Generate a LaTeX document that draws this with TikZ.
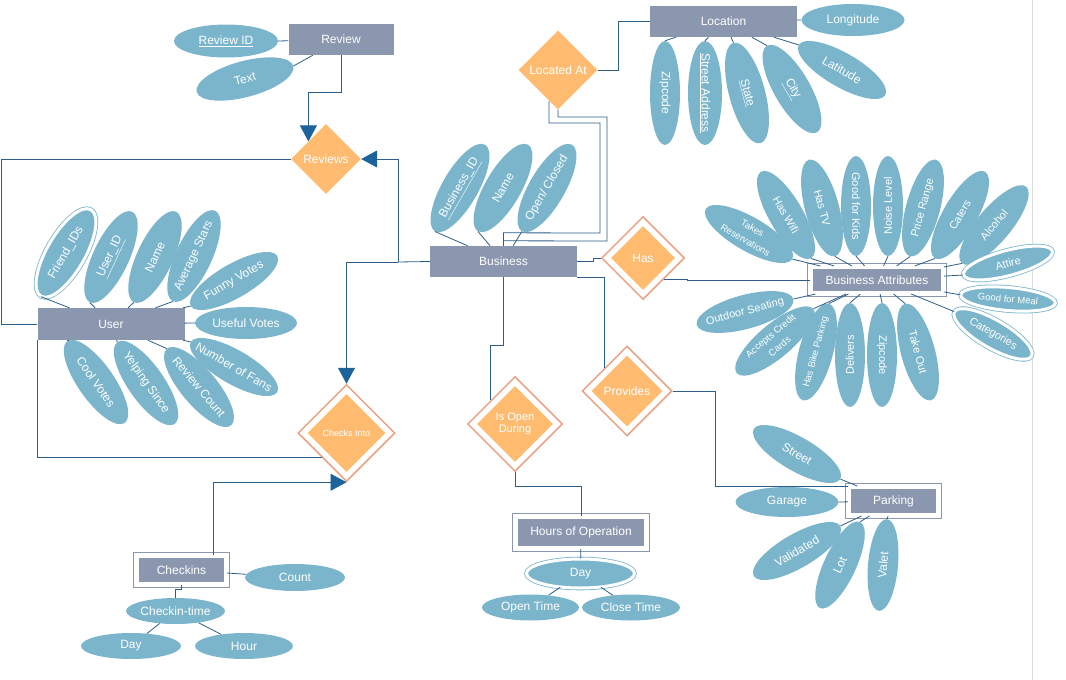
\documentclass[tikz,border=0pt]{standalone}
\usepackage{fontspec}
\setmainfont{Liberation Sans}
\usetikzlibrary{shapes.geometric,arrows.meta}
\definecolor{EntityGray}{RGB}{139,151,175}
\definecolor{AttrBlue}{RGB}{122,181,204}
\definecolor{RelOrange}{RGB}{255,188,112}
\definecolor{RelEdge}{RGB}{233,162,132}
\definecolor{LinkBlue}{RGB}{43,94,138}
\definecolor{TipBlue}{RGB}{29,99,155}
\definecolor{PageLine}{RGB}{222,222,222}
\newcommand{\midtxt}{\fontsize{11}{12.5}\selectfont}
\newcommand{\smalltxt}{\fontsize{9.5}{10.5}\selectfont}
% ellipse drawn empty, its text laid on top so the shape keeps its size
\newcommand{\attrib}[5][attr]{%
    \node[#1, rotate=#4] (#2) at (#3) {};
    \node[attrtext, rotate=#4] at (#2) {#5};}
\tikzset{
    entity/.style={rectangle, fill=EntityGray, text=white, inner sep=2pt,
        minimum width=147pt, minimum height=31pt, font=\fontsize{12}{14}\selectfont},
    wentity/.style={entity, draw=EntityGray, line width=1pt, double=white, double distance=5pt},
    attr/.style={ellipse, fill=AttrBlue, minimum width=100pt, minimum height=34pt, inner sep=0pt},
    mattr/.style={attr, draw=AttrBlue, line width=0.8pt, double=white, double distance=3pt,
        minimum width=100pt, minimum height=38pt},
    attrtext/.style={text=white, inner sep=0pt, align=center, font=\fontsize{12}{14}\selectfont},
    rel/.style={diamond, fill=RelOrange, text=white, inner sep=0pt, aspect=1,
        align=center, font=\fontsize{12}{14}\selectfont},
    wrel/.style={diamond, draw=RelEdge, line width=1.5pt, fill=white, inner sep=0pt, aspect=1},
    conn/.style={draw=LinkBlue, line width=0.8pt},
    arrowto/.style={-{Triangle[width=17pt,length=16pt,color=TipBlue]}}
}

\begin{document}
\begin{tikzpicture}[x=1pt,y=-1pt]
    \useasboundingbox (0,0) rectangle (1066,680);
    \draw[PageLine] (1032,0) -- (1032,680);

    % entities
    \node[entity, minimum width=105pt] (review) at (341,39.5) {Review};
    \node[entity, minimum height=32pt] (user) at (111,324) {User};
    \node[entity] (business) at (503.5,261.5) {Business};
    \node[entity] (location) at (723.5,21.5) {Location};
    \node[wentity, minimum width=133pt, minimum height=27pt] (battr) at (877,280) {Business Attributes};
    \node[wentity, minimum width=90pt, minimum height=29pt] (parking) at (893.5,501) {Parking};
    \node[wentity, minimum width=131pt, minimum height=32pt] (hours) at (581,532.5) {Hours of Operation};
    \node[wentity, minimum width=90pt, minimum height=29pt] (checkins) at (181.5,570) {Checkins};

    % relationships
    \node[rel, minimum size=70pt] (reviews) at (326,159) {Reviews};
    \node[rel, minimum size=79pt] (located) at (558,70) {Located At};
    \node[wrel, minimum size=83pt] (has) at (643,258) {};
    \node[rel, minimum size=64pt] (has-in) at (has) {Has};
    \node[wrel, minimum size=90pt] (provides) at (627,391) {};
    \node[rel, minimum size=71pt] (provides-in) at (provides) {Provides};
    \node[wrel, minimum size=95pt] (isopen) at (515,424) {};
    \node[rel, minimum size=76pt, font=\midtxt] (isopen-in) at (isopen) {Is Open\\During};
    \node[wrel, minimum size=97pt] (checks) at (346.5,433) {};
    \node[rel, minimum size=78pt, font=\fontsize{9}{10}\selectfont] (checks-in) at (checks) {Checks Into};

    % review
    \attrib[attr, minimum width=104pt, minimum height=33pt]{reviewid}{226,41}{0}{\underline{Review ID}}
    \attrib[attr, minimum height=36pt]{rtext}{245,79}{15}{Text}

    % user
    \attrib[mattr]{friends}{66,253}{60}{Friend\_IDs}
    \attrib[attr, minimum height=36pt]{userid}{111,257}{65}{\underline{User\_ID}}
    \attrib[attr, minimum height=36pt]{uname}{155,257}{65}{Name}
    \attrib[attr, minimum height=36pt]{avgstars}{194,256}{65}{Average Stars}
    \attrib{funny}{234,281}{30}{Funny Votes}
    \attrib[attr, minimum width=102pt, minimum height=32pt]{useful}{246,323}{0}{Useful Votes}
    \attrib{fans}{234,367}{-30}{Number of Fans}
    \attrib[attr, minimum height=36pt]{cool}{96,382}{-55}{Cool Votes}
    \attrib[attr, minimum height=36pt]{yelping}{146,383}{-55}{Yelping Since}
    \attrib[attr, minimum height=36pt]{revcount}{199,387}{-50}{Review Count}

    % business
    \attrib[attr, minimum height=36pt]{bizid}{460,188}{60}{\underline{Business\_ID}}
    \attrib[attr, minimum height=36pt]{bname}{503,188}{60}{Name}
    \attrib[attr, minimum height=36pt]{open}{547,188}{60}{Open/ Closed}

    % location
    \attrib[attr, minimum width=103pt, minimum height=32pt]{lon}{853,20}{0}{Longitude}
    \attrib[attr, minimum width=104pt, minimum height=30pt]{lzip}{665,93}{-90}{Zipcode}
    \attrib[attr, minimum width=104pt]{street}{705,93}{-90}{\underline{Street Address}}
    \attrib[attr, minimum width=104pt, minimum height=36pt]{state}{747,93}{-75}{\underline{State}}
    \attrib[attr, minimum height=36pt]{city}{792,89}{-60}{\underline{City}}
    \attrib{lat}{842,70}{-30}{Latitude}

    % business attributes
    \attrib{takes}{749,234}{-30}{\smalltxt Takes\\\smalltxt Reservations}
    \attrib{wifi}{786,215}{-60}{\midtxt Has Wifi}
    \attrib{tv}{822,208}{-75}{\midtxt Has TV}
    \attrib[attr, minimum height=30pt]{kids}{856,206}{-90}{\midtxt Good for Kids}
    \attrib[attr, minimum height=30pt]{noise}{888,206}{90}{\midtxt Noise Level}
    \attrib{price}{923,208}{75}{\midtxt Price Range}
    \attrib{caters}{960,215}{60}{\midtxt Caters}
    \attrib{alcohol}{994,225}{50}{\midtxt Alcohol}
    \attrib[mattr, minimum width=92pt, minimum height=25pt]{attire}{1008,263}{15}{\midtxt Attire}
    \attrib[mattr, minimum width=95pt, minimum height=23pt]{meal}{1008,299}{-5}{\smalltxt Good for Meal}
    \attrib[mattr, minimum width=89pt, minimum height=28pt]{categories}{993,334}{-30}{\midtxt Categories}
    \attrib{outdoor}{745,312}{15}{\midtxt Outdoor Seating}
    \attrib{credit}{775,341}{40}{\smalltxt Accepts Credit\\\smalltxt Cards}
    \attrib{bike}{816,352}{75}{\smalltxt Has Bike Parking}
    \attrib[attr, minimum width=104pt, minimum height=30pt]{delivers}{850,355}{90}{\midtxt Delivers}
    \attrib[attr, minimum width=104pt, minimum height=30pt]{bzip}{882,355}{-90}{\midtxt Zipcode}
    \attrib{takeout}{918,352}{-75}{\midtxt Take Out}

    % parking
    \attrib{pstreet}{797,454}{-30}{Street}
    \attrib[attr, minimum width=103pt, minimum height=30pt]{garage}{787,502}{0}{Garage}
    \attrib{validated}{797,551}{30}{Validated}
    \attrib[attr, minimum width=95pt, minimum height=32pt]{lot}{840,565}{65}{Lot}
    \attrib[attr, minimum width=92pt, minimum height=30pt]{valet}{883,565}{85}{Valet}

    % hours of operation
    \attrib[mattr, minimum width=108pt, minimum height=29pt]{hday}{580.5,573.5}{0}{Day}
    \attrib[attr, minimum width=97pt, minimum height=26pt]{opent}{530.5,607.5}{0}{Open Time}
    \attrib[attr, minimum width=98pt, minimum height=26pt]{closet}{631,607.5}{0}{Close Time}

    % checkins
    \attrib[attr, minimum height=27pt]{count}{295,577.5}{0}{Count}
    \attrib[attr, minimum width=99pt, minimum height=26pt]{ctime}{175.5,611}{0}{Checkin-time}
    \attrib[attr, minimum height=26pt]{cday}{131,646}{0}{Day}
    \attrib[attr, minimum width=98pt, minimum height=26pt]{hour}{244,646}{0}{Hour}

    % attribute links, from the tip of each ellipse
    \foreach \a/\s in {reviewid/east,rtext/east} \draw[conn] (\a.\s) -- (review);
    \foreach \a in {friends,userid,uname,avgstars,funny,useful,fans,cool,yelping,revcount}
        \draw[conn] (\a.west) -- (user);
    \foreach \a in {bizid,bname,open} \draw[conn] (\a.west) -- (business);
    \foreach \a in {lon,lzip,street,state,city,lat} \draw[conn] (\a.west) -- (location);
    \foreach \a/\s in {takes/east,wifi/east,tv/east,kids/east,noise/west,price/west,
        caters/west,alcohol/west,attire/west,meal/west,categories/west,outdoor/east,
        credit/east,bike/east,delivers/east,bzip/west,takeout/west}
        \draw[conn] (\a.\s) -- (battr);
    \foreach \a in {pstreet,garage,validated,lot,valet} \draw[conn] (\a.east) -- (parking);
    \draw[conn] (hday) -- (hours);
    \foreach \a in {opent,closet} \draw[conn] (\a) -- (hday);
    \draw[conn] (count) -- (checkins);
    \draw[conn] (checkins.south) -- ++(0,4) -| (ctime.north);
    \foreach \a in {cday,hour} \draw[conn] (\a) -- (ctime);

    % relationship links
    \coordinate (bj) at (398,262);
    \coordinate (locin) at (549,101);
    \draw[conn,arrowto] (review.south) -- ++(0,37) -| (reviews.north west);
    \draw[conn] (business.west) -- (bj);
    \draw[conn,arrowto] (bj) |- (reviews.east);
    \draw[conn,arrowto] (bj) -| (checks.north);
    \draw[conn] (reviews.west) -- ++(-289,0) |- (user.west);
    \draw[conn] (user.south west) |- (checks.south west);
    \draw[conn,arrowto] ([xshift=32pt]checkins.north) |- (checks.south);
    \draw[conn] (business.north) -- ++(0,-13) -- (600,233) -- (600,123) -- (549,123) -- (locin);
    \draw[conn] ([yshift=5pt]business.north) -- (607,241) -- (607,117) -- (558,117) -- (located.south);
    \draw[conn] (located.east) -- ++(21,0) |- (location.west);
    \draw[conn] (business.east) -- ++(16,0) |- (has.west);
    \draw[conn] (has.south east) -- ++(23,0) |- (battr.west);
    \draw[conn] (business.south east) -| (provides.north west);
    \draw[conn] (provides.east) -- ++(43,0) |- (parking.north west);
    \draw[conn] (business.south) -- ++(0,68) -| (isopen.north west);
    \draw[conn] (isopen.south) -- ++(0,14.5) -| (hours.north);
\end{tikzpicture}
\end{document}
